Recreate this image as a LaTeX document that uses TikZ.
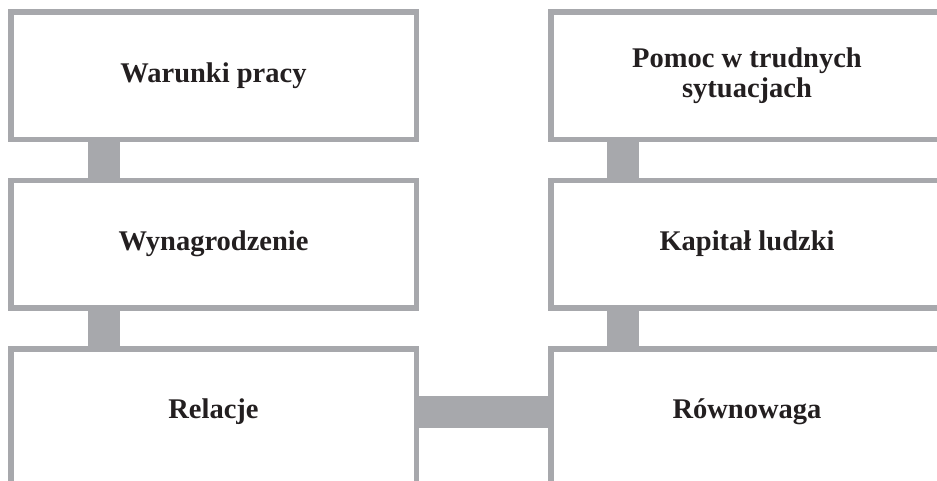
\documentclass[tikz,border=0pt]{standalone}
\usepackage{fontspec}
\setmainfont{Liberation Serif}
\usetikzlibrary{positioning,backgrounds}
\definecolor{boxgray}{RGB}{167,168,172}
\definecolor{textblack}{RGB}{35,31,32}

\begin{document}
\begin{tikzpicture}[node distance=41pt and 134.5pt,
	box/.style={draw=boxgray, line width=5.5pt, fill=white, outer sep=0pt, minimum height=127.5pt,
		text=textblack, font=\fontsize{28.5}{30}\selectfont\bfseries, align=center},
	leftbox/.style={box, minimum width=405.5pt},
	rightbox/.style={box, minimum width=392.5pt},
	lastrow/.style={minimum height=140pt, text height=12pt, text depth=12pt},
	bar/.style={draw=boxgray, line width=32pt}]
	\useasboundingbox (0,0) rectangle (937pt,-480pt);
	\clip (0,0) rectangle (937pt,-480pt);

	\node[leftbox] (warunki) at (213.5pt,-75.5pt) {Warunki pracy};
	\node[leftbox] (wynagrodzenie) [below=of warunki] {Wynagrodzenie};
	\node[leftbox, lastrow] (relacje) [below=of wynagrodzenie] {Relacje};
	\node[rightbox] (pomoc) [right=of warunki] {Pomoc w trudnych\\sytuacjach};
	\node[rightbox] (kapital) [below=of pomoc] {Kapitał ludzki};
	\node[rightbox, lastrow] (rownowaga) [below=of kapital] {Równowaga};

	% connecting bars behind the boxes
	\begin{scope}[on background layer]
		\draw[bar] ([xshift=-109.5pt]warunki.south) -- ([xshift=-109.5pt]wynagrodzenie.north);
		\draw[bar] ([xshift=-109.5pt]wynagrodzenie.south) -- ([xshift=-109.5pt]relacje.north);
		\draw[bar] ([xshift=-124.5pt]pomoc.south) -- ([xshift=-124.5pt]kapital.north);
		\draw[bar] ([xshift=-124.5pt]kapital.south) -- ([xshift=-124.5pt]rownowaga.north);
		\draw[bar] ([yshift=6.75pt]relacje.east) -- ([yshift=6.75pt]rownowaga.west);
	\end{scope}
\end{tikzpicture}
\end{document}
